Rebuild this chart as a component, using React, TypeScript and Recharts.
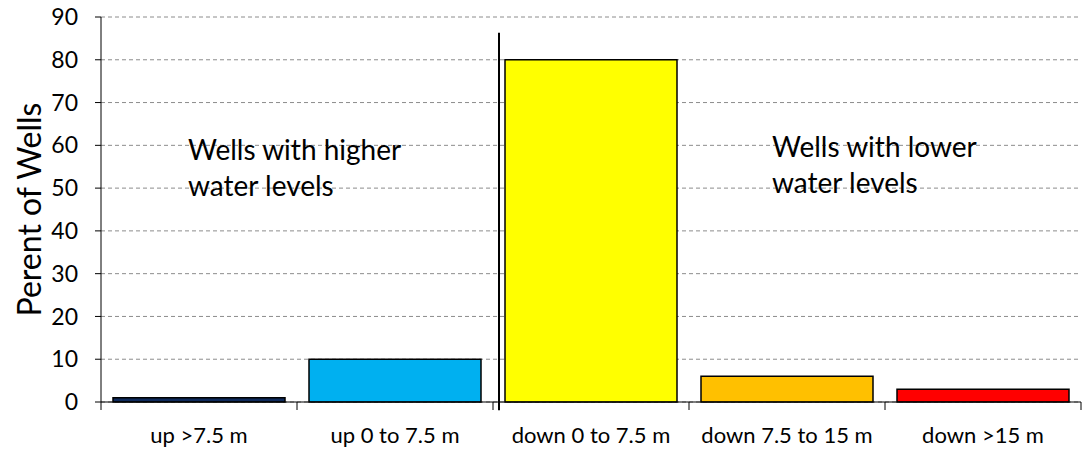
import React from "react";
import { BarChart, Bar, XAxis, YAxis, CartesianGrid, Cell, ReferenceLine } from "recharts";

const categories = ["up >7.5 m", "up 0 to 7.5 m", "down 0 to 7.5 m", "down 7.5 to 15 m", "down >15 m"];
const percents = [1, 10, 80, 6, 3];
const colors = ["#0F2A5C", "#00B0F0", "#FFFF00", "#FFC000", "#FF0000"];
const yTicks = [0, 10, 20, 30, 40, 50, 60, 70, 80, 90];

const data = categories.map((name, i) => ({ name, value: percents[i] }));

const FONT = "Lato, 'Open Sans', sans-serif";
const X_TICK_SIZE = 8;
const X_TICK_MARGIN = 17;

const SplitLine = (props: any) => (
  <line x1={props.x1 + 6} y1={props.y1} x2={props.x2 + 6} y2={props.y2} stroke="#000" strokeWidth={2} />
);

// tick marks sit on the category boundaries, labels stay centred
const BoundaryTick = (props: any) => {
  const { x, y, payload, index, visibleTicksCount } = props;
  const half = payload.offset || 0;
  const axisY = y - X_TICK_SIZE - X_TICK_MARGIN;
  return (
    <g>
      <line x1={x - half} y1={axisY} x2={x - half} y2={axisY + X_TICK_SIZE} stroke="#000" />
      {index === visibleTicksCount - 1 && (
        <line x1={x + half} y1={axisY} x2={x + half} y2={axisY + X_TICK_SIZE} stroke="#000" />
      )}
      <text x={x} y={y} dy="0.71em" textAnchor="middle" fill="#000" fontSize={22} fontFamily={FONT}>
        {payload.value}
      </text>
    </g>
  );
};

export default function App() {
  return (
    <div style={{ position: "absolute", left: 0, top: 0, width: 1087, height: 457, background: "#fff", fontFamily: FONT }}>
      <BarChart
        width={1087}
        height={457}
        data={data}
        margin={{ top: 17, right: 6, bottom: 0, left: 0 }}
        barCategoryGap={12}
      >
        <CartesianGrid vertical={false} stroke="#8c8c8c" strokeDasharray="4 3" />
        <XAxis
          dataKey="name"
          height={55}
          tickSize={X_TICK_SIZE}
          tickMargin={X_TICK_MARGIN}
          tickLine={false}
          stroke="#000"
          tick={<BoundaryTick />}
          interval={0}
        />
        <YAxis
          width={101}
          domain={[0, 90]}
          ticks={yTicks}
          tickSize={6}
          tickMargin={17}
          stroke="#000"
          tick={{ fill: "#000", fontSize: 23, fontFamily: FONT }}
          label={{
            value: "Perent of Wells",
            angle: -90,
            position: "insideLeft",
            offset: 30,
            style: { textAnchor: "middle", fontSize: 32, fill: "#000", fontFamily: FONT },
          }}
        />
        <Bar dataKey="value" stroke="#000" strokeWidth={1.5} isAnimationActive={false}>
          {data.map((d, i) => (
            <Cell key={d.name} fill={colors[i]} />
          ))}
        </Bar>
        <ReferenceLine
          segment={[
            { x: "up 0 to 7.5 m", y: 86.3 },
            { x: "up 0 to 7.5 m", y: -1.9 },
          ]}
          position="end"
          ifOverflow="visible"
          shape={SplitLine}
        />
      </BarChart>
      <div style={{ position: "absolute", left: 188, top: 131, fontSize: 28, lineHeight: "36px", color: "#000" }}>
        Wells with higher
        <br />
        water levels
      </div>
      <div style={{ position: "absolute", left: 772, top: 128, fontSize: 28, lineHeight: "36px", color: "#000" }}>
        Wells with lower
        <br />
        water levels
      </div>
    </div>
  );
}
